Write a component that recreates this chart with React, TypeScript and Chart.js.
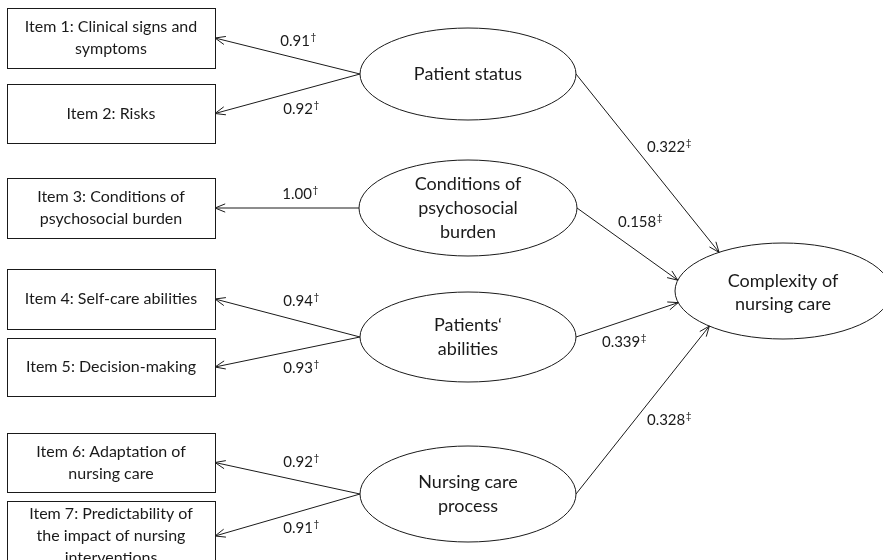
import React, { useEffect, useRef } from "react";
import { Chart, registerables } from "chart.js";

Chart.register(...registerables);

// ---- Content ----
const itemLabels: string[][] = [
  ["Item 1: Clinical signs and", "symptoms"],
  ["Item 2: Risks"],
  ["Item 3: Conditions of", "psychosocial burden"],
  ["Item 4: Self-care abilities"],
  ["Item 5: Decision-making"],
  ["Item 6: Adaptation of", "nursing care"],
  ["Item 7: Predictability of", "the impact of nursing", "interventions"],
];
const latentLabels: string[][] = [
  ["Patient status"],
  ["Conditions of", "psychosocial", "burden"],
  ["Patients\u2018", "abilities"],
  ["Nursing care", "process"],
];
const outcomeLabel: string[] = ["Complexity of", "nursing care"];
const loadings: string[] = ["0.91", "0.92", "1.00", "0.94", "0.93", "0.92", "0.91"];
const loadingFactor: number[] = [0, 0, 1, 2, 2, 3, 3];
const loadingMark = "\u2020";
const pathCoefs: string[] = ["0.322", "0.158", "0.339", "0.328"];
const pathMark = "\u2021";

// ---- Layout (diagram units) ----
const boxLeft = 7;
const boxRight = 215;
const boxCenterY: number[] = [38, 113.5, 208, 299, 367, 462.5, 536];
const boxHeight: number[] = [60, 59, 60, 60, 58, 59, 70];
const latentCenter: number[][] = [[468, 74], [468, 208], [468, 337], [468, 494]];
const latentRadii: number[][] = [[108, 46], [109, 48], [108, 45], [108, 48]];
const outcomeCenter: number[] = [783, 291];
const outcomeRadii: number[] = [108, 48];
const outcomeTextY = 293;
const pathTargetAngle: number[] = [233.7, 193, 166, 133];
const loadingLabelPos: number[][] = [[298, 41], [301, 109], [300, 194], [301, 301], [301, 368], [301, 462], [301, 528]];
const pathLabelPos: number[][] = [[669, 147], [640, 222], [624, 342], [669, 420]];

const FONT = "Lato, 'Open Sans', sans-serif";

const diagramPlugin = {
  id: "semDiagram",
  afterDraw(chart: any) {
    const ctx: CanvasRenderingContext2D = chart.ctx;
    const xs = chart.scales.x;
    const ys = chart.scales.y;
    const px = (v: number) => xs.getPixelForValue(v);
    const py = (v: number) => ys.getPixelForValue(v);
    const dx = (v: number) => Math.abs(xs.getPixelForValue(v) - xs.getPixelForValue(0));
    const dy = (v: number) => Math.abs(ys.getPixelForValue(v) - ys.getPixelForValue(0));

    ctx.save();
    ctx.strokeStyle = "#1a1a1a";
    ctx.fillStyle = "#1a1a1a";
    ctx.lineWidth = 1;

    const arrow = (x1: number, y1: number, x2: number, y2: number) => {
      ctx.beginPath();
      ctx.moveTo(x1, y1);
      ctx.lineTo(x2, y2);
      ctx.stroke();
      const a = Math.atan2(y2 - y1, x2 - x1);
      const len = 11;
      const spread = (22 * Math.PI) / 180;
      ctx.beginPath();
      ctx.moveTo(x2 - len * Math.cos(a - spread), y2 - len * Math.sin(a - spread));
      ctx.lineTo(x2, y2);
      ctx.lineTo(x2 - len * Math.cos(a + spread), y2 - len * Math.sin(a + spread));
      ctx.stroke();
    };

    const lines = (arr: string[], cx: number, cy: number, size: number, lh: number) => {
      ctx.font = `${size}px ${FONT}`;
      ctx.textAlign = "center";
      ctx.textBaseline = "middle";
      const start = cy - ((arr.length - 1) * lh) / 2;
      arr.forEach((t, i) => ctx.fillText(t, cx, start + i * lh));
    };

    const markedLabel = (num: string, mark: string, cx: number, cy: number) => {
      ctx.textBaseline = "middle";
      ctx.textAlign = "left";
      ctx.font = `15px ${FONT}`;
      const w1 = ctx.measureText(num).width;
      ctx.font = `10px ${FONT}`;
      const w2 = ctx.measureText(mark).width;
      const x0 = cx - (w1 + w2) / 2;
      ctx.font = `15px ${FONT}`;
      ctx.fillText(num, x0, cy);
      ctx.font = `10px ${FONT}`;
      ctx.fillText(mark, x0 + w1 + 0.5, cy - 4);
    };

    // Item boxes
    itemLabels.forEach((lab, i) => {
      const top = py(boxCenterY[i] - boxHeight[i] / 2);
      const h = dy(boxHeight[i]);
      ctx.strokeRect(Math.round(px(boxLeft)) + 0.5, Math.round(top) + 0.5, Math.round(dx(boxRight - boxLeft)), Math.round(h));
      lines(lab, px((boxLeft + boxRight) / 2), py(boxCenterY[i]), 16, 22);
    });

    // Latent ellipses
    latentLabels.forEach((lab, i) => {
      const [cx, cy] = latentCenter[i];
      const [rx, ry] = latentRadii[i];
      ctx.beginPath();
      ctx.ellipse(px(cx), py(cy), dx(rx), dy(ry), 0, 0, Math.PI * 2);
      ctx.stroke();
      lines(lab, px(cx), py(cy), 18, 24);
    });

    // Outcome ellipse
    ctx.beginPath();
    ctx.ellipse(px(outcomeCenter[0]), py(outcomeCenter[1]), dx(outcomeRadii[0]), dy(outcomeRadii[1]), 0, 0, Math.PI * 2);
    ctx.stroke();
    lines(outcomeLabel, px(outcomeCenter[0]), py(outcomeTextY), 18, 23);

    // Loadings (factor -> item)
    loadings.forEach((v, i) => {
      const f = loadingFactor[i];
      const [cx, cy] = latentCenter[f];
      const [rx] = latentRadii[f];
      arrow(px(cx - rx), py(cy), px(boxRight), py(boxCenterY[i]));
      markedLabel(v, loadingMark, px(loadingLabelPos[i][0]), py(loadingLabelPos[i][1]));
    });

    // Structural paths (factor -> outcome)
    pathCoefs.forEach((v, i) => {
      const [cx, cy] = latentCenter[i];
      const [rx] = latentRadii[i];
      const t = (pathTargetAngle[i] * Math.PI) / 180;
      const tx = outcomeCenter[0] + outcomeRadii[0] * Math.cos(t);
      const ty = outcomeCenter[1] + outcomeRadii[1] * Math.sin(t);
      arrow(px(cx + rx), py(cy), px(tx), py(ty));
      markedLabel(v, pathMark, px(pathLabelPos[i][0]), py(pathLabelPos[i][1]));
    });

    ctx.restore();
  },
};

export default function App() {
  const ref = useRef<HTMLCanvasElement | null>(null);
  useEffect(() => {
    if (!ref.current) return;
    const nodePoints = [
      ...latentCenter.map((c) => ({ x: c[0], y: c[1] })),
      { x: outcomeCenter[0], y: outcomeCenter[1] },
    ];
    const chart = new Chart(ref.current, {
      type: "scatter",
      data: {
        datasets: [
          {
            data: nodePoints,
            pointRadius: 0,
            pointHoverRadius: 0,
          },
        ],
      },
      options: {
        animation: false,
        responsive: false,
        maintainAspectRatio: false,
        layout: { padding: 0 },
        events: [],
        scales: {
          x: { type: "linear", min: 0, max: 883, display: false },
          y: { type: "linear", min: 0, max: 560, reverse: true, display: false },
        },
        plugins: {
          legend: { display: false },
          tooltip: { enabled: false },
          title: { display: false },
        },
      },
      plugins: [diagramPlugin],
    });
    return () => chart.destroy();
  }, []);
  return (
    <div style={{ position: "fixed", left: 0, top: 0, width: 883, height: 560, background: "#fff" }}>
      <canvas ref={ref} width={883} height={560} style={{ display: "block" }} />
    </div>
  );
}
